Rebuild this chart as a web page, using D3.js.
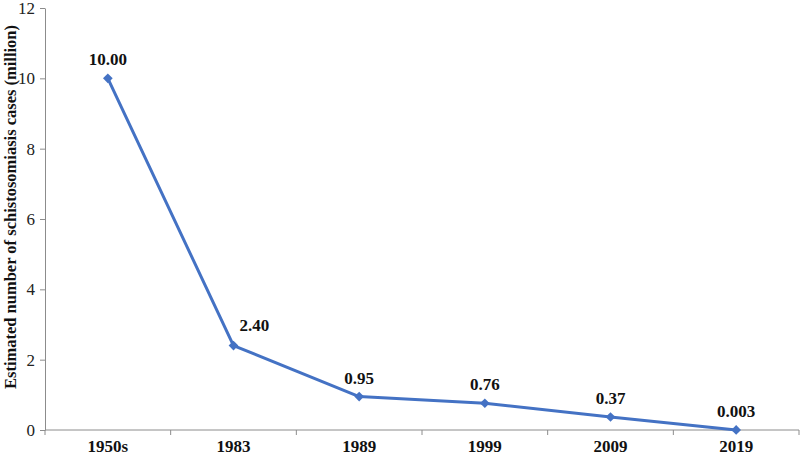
<!DOCTYPE html>
<html>
<head>
<meta charset="utf-8">
<script src="https://cdn.jsdelivr.net/npm/d3@7"></script>
<style>
  body { margin: 0; background: #fff; }
  svg { display: block; }
  svg text { font-family: "Liberation Serif", "Times New Roman", serif; }
</style>
</head>
<body>
<div id="chart"></div>
<script>
// data
const years = ["1950s", "1983", "1989", "1999", "2009", "2019"];
const cases = [10.00, 2.40, 0.95, 0.76, 0.37, 0.003];
const caseLabels = ["10.00", "2.40", "0.95", "0.76", "0.37", "0.003"];
const yTicks = [0, 2, 4, 6, 8, 10, 12];

const width = 800, height = 461;
const margin = { top: 8, right: 1, bottom: 31, left: 45 };
const innerW = width - margin.left - margin.right;
const innerH = height - margin.top - margin.bottom;

const svg = d3.select("#chart").append("svg")
    .attr("width", width)
    .attr("height", height);

const g = svg.append("g")
    .attr("transform", `translate(${margin.left},${margin.top})`);

const x = d3.scaleBand().domain(years).range([0, innerW]);
const y = d3.scaleLinear().domain([0, 12]).range([innerH, 0]);

const axisColor = "#8c8c8c";

// y axis
const yAxis = g.append("g")
    .call(d3.axisLeft(y).tickValues(yTicks).tickSize(5).tickSizeOuter(0).tickPadding(5));
yAxis.attr("font-family", null);
yAxis.select(".domain").attr("stroke", axisColor);
yAxis.selectAll(".tick line").attr("stroke", axisColor);
yAxis.selectAll(".tick text")
    .attr("fill", "#222")
    .style("font-size", "17px");

// x axis: ticks at the band boundaries
const xAxis = g.append("g").attr("transform", `translate(0,${innerH})`);
xAxis.append("line")
    .attr("x1", 0).attr("x2", innerW)
    .attr("stroke", axisColor);
const boundaries = d3.range(years.length + 1).map(i => i * x.step());
xAxis.selectAll(".bt")
    .data(boundaries)
    .enter().append("line")
    .attr("x1", d => d).attr("x2", d => d)
    .attr("y1", 0).attr("y2", 5)
    .attr("stroke", axisColor);
xAxis.selectAll(".xl")
    .data(years)
    .enter().append("text")
    .attr("x", d => x(d) + x.bandwidth() / 2)
    .attr("y", 22)
    .attr("text-anchor", "middle")
    .style("font-size", "17px")
    .style("font-weight", "bold")
    .attr("fill", "#111")
    .text(d => d);

// y title
svg.append("text")
    .attr("transform", `translate(12,207) rotate(-90)`)
    .attr("text-anchor", "middle")
    .attr("dominant-baseline", "middle")
    .style("font-size", "16.5px")
    .style("font-weight", "bold")
    .attr("fill", "#111")
    .text("Estimated number of schistosomiasis cases (million)");

// line
const cx = (d, i) => x(years[i]) + x.bandwidth() / 2;
const line = d3.line()
    .x(cx)
    .y(d => y(d));

g.append("path")
    .datum(cases)
    .attr("fill", "none")
    .attr("stroke", "#4472C4")
    .attr("stroke-width", 3)
    .attr("stroke-linejoin", "round")
    .attr("d", line);

g.selectAll(".pt")
    .data(cases)
    .enter().append("path")
    .attr("d", d3.symbol().type(d3.symbolDiamond2).size(60))
    .attr("transform", (d, i) => `translate(${cx(d, i)},${y(d)})`)
    .attr("fill", "#4472C4");

// value labels
g.selectAll(".lbl")
    .data(cases)
    .enter().append("text")
    .attr("x", (d, i) => i === 1 ? cx(d, i) + 6 : cx(d, i))
    .attr("y", (d, i) => i === 1 ? y(d) - 15 : y(d) - 13)
    .attr("text-anchor", (d, i) => i === 1 ? "start" : "middle")
    .style("font-size", "17px")
    .style("font-weight", "bold")
    .attr("fill", "#111")
    .text((d, i) => caseLabels[i]);
</script>
</body>
</html>
